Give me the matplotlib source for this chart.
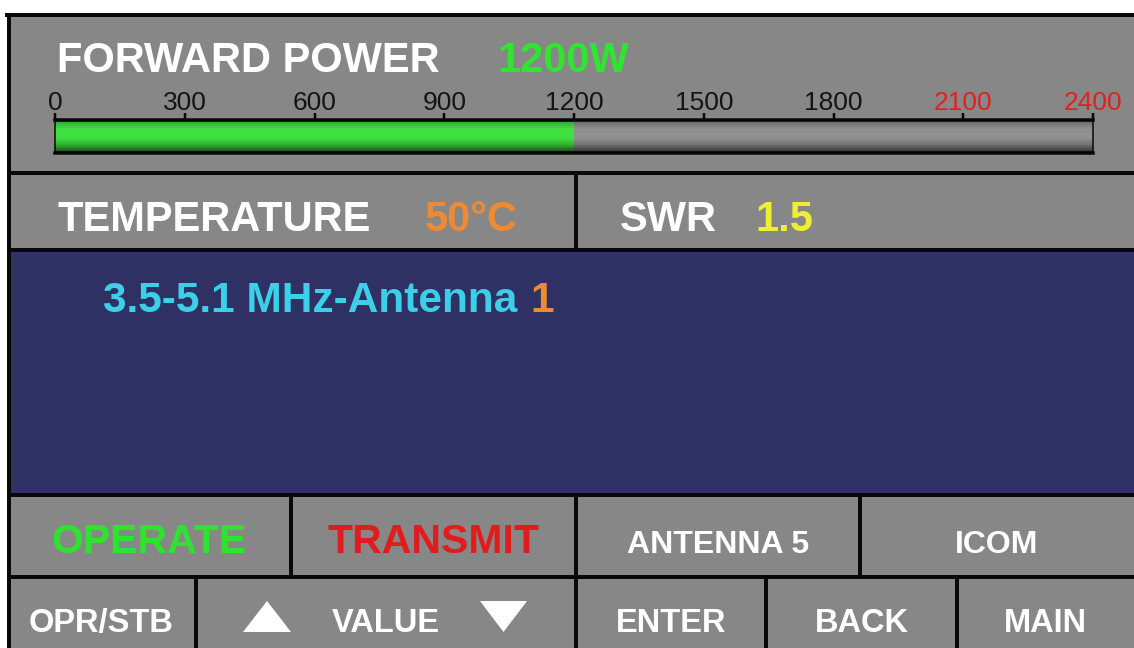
import matplotlib
matplotlib.use('Agg')
import matplotlib.pyplot as plt
import numpy as np
from matplotlib.patches import Rectangle, Polygon

# ---------------- data ----------------
power_title = "FORWARD POWER"
power_value = 1200
power_unit = "W"
scale_max = 2400
scale_ticks = [0, 300, 600, 900, 1200, 1500, 1800, 2100, 2400]
redline_start = 2100
temperature_c = 50
swr_value = 1.5
band_label = "3.5-5.1 MHz-Antenna"
antenna_number = 1
status_buttons = ["OPERATE", "TRANSMIT", "ANTENNA 5", "ICOM"]
status_colors = ["#2fe22f", "#e21c1c", "white", "white"]
nav_buttons = ["OPR/STB", "VALUE", "ENTER", "BACK", "MAIN"]

# ---------------- style ----------------
W, H = 1134, 648
PX = 0.72  # points per pixel at dpi 100
FONT = ['Liberation Sans', 'DejaVu Sans']
GRAY = '#878787'
NAVY = '#2f3063'
BLACK = '#080808'
GREEN_TXT = '#2fe52f'
ORANGE = '#ee8a32'
YELLOW = '#eeee34'
CYAN = '#3ccfe8'
RED = '#e22020'

fig = plt.figure(figsize=(W / 100, H / 100), dpi=100)
fig.patch.set_facecolor('white')
ax = fig.add_axes([0, 0, 1, 1])
ax.set_xlim(0, W)
ax.set_ylim(H, 0)
ax.axis('off')

# panels
ax.add_patch(Rectangle((7, 13), W - 7, H - 13, facecolor=GRAY, edgecolor='none', zorder=0))
ax.add_patch(Rectangle((7, 250), W - 7, 245, facecolor=NAVY, edgecolor='none', zorder=0))

lw = 4 * PX
def hline(y, x0=7, x1=W):
    ax.plot([x0, x1], [y, y], color=BLACK, lw=lw, solid_capstyle='butt', zorder=2)
def vline(x, y0, y1):
    ax.plot([x, x], [y0, y1], color=BLACK, lw=lw, solid_capstyle='butt', zorder=2)

hline(14.5, 5, W)
vline(8.5, 13, H)
for y in [173, 250, 495, 577]:
    hline(y)
vline(576, 173, 250)
row3_edges = [7, 291, 576, 860, W]
row4_edges = [7, 196, 576, 766, 957, W]
for x in row3_edges[1:-1]:
    vline(x, 495, 577)
for x in row4_edges[1:-1]:
    vline(x, 577, H)

# header texts
ax.text(57, 72, power_title, color='white', fontsize=30, fontweight='bold',
        family=FONT, ha='left', va='baseline')
ax.text(497, 72, f"{power_value}{power_unit}", color=GREEN_TXT, fontsize=30,
        fontweight='bold', family=FONT, ha='left', va='baseline')

ax.text(57, 231, "TEMPERATURE", color='white', fontsize=30, fontweight='bold',
        family=FONT, ha='left', va='baseline')
ax.text(425, 231, f"{temperature_c}°C", color=ORANGE, fontsize=30, fontweight='bold',
        family=FONT, ha='left', va='baseline')
ax.text(620, 231, "SWR", color='white', fontsize=30, fontweight='bold',
        family=FONT, ha='left', va='baseline')
ax.text(755, 231, f"{swr_value}", color=YELLOW, fontsize=30, fontweight='bold',
        family=FONT, ha='left', va='baseline')

t = ax.text(103, 312, band_label, color=CYAN, fontsize=30.5, fontweight='bold',
            family=FONT, ha='left', va='baseline')
ax.annotate(str(antenna_number), xy=(1, 0), xycoords=t, xytext=(9.5, 0),
            textcoords='offset points', color=ORANGE, fontsize=30.5,
            fontweight='bold', family=FONT, ha='left', va='bottom')

# row 3 buttons
row3_sizes = [29.5, 29.5, 23, 23]
for i, (lab, col) in enumerate(zip(status_buttons, status_colors)):
    cx = (row3_edges[i] + row3_edges[i + 1]) / 2
    ax.text(cx, 553, lab, color=col, fontsize=row3_sizes[i], fontweight='bold',
            family=FONT, ha='center', va='baseline')

# row 4 buttons
for i, lab in enumerate(nav_buttons):
    cx = (row4_edges[i] + row4_edges[i + 1]) / 2
    ax.text(cx, 632, lab, color='white', fontsize=23.5, fontweight='bold',
            family=FONT, ha='center', va='baseline')

# value arrows
ax.add_patch(Polygon([(243, 632), (291, 632), (267, 601)], closed=True,
                     facecolor='white', edgecolor='none', zorder=3))
ax.add_patch(Polygon([(480, 601), (527, 601), (503.5, 632)], closed=True,
                     facecolor='white', edgecolor='none', zorder=3))

# ---------------- meter ----------------
mx = fig.add_axes([55 / W, 1 - 153 / H, (1093 - 55) / W, 33 / H])
mx.barh(0.5, scale_max, height=1, color='#909090', zorder=1)
mx.barh(0.5, power_value, height=1, color='#40e040', zorder=2)
n = 64
yy = np.linspace(0, 1, n)
alpha = np.interp(yy, [0, 0.1, 0.3, 0.55, 0.75, 0.9, 1.0],
                  [0.6, 0.2, 0.0, 0.0, 0.2, 0.5, 0.75])
shade = np.zeros((n, 1, 4))
shade[..., 3] = alpha[:, None]
mx.imshow(shade, extent=(0, scale_max, 0, 1), aspect='auto', zorder=3,
          interpolation='bilinear')
mx.set_xlim(0, scale_max)
mx.set_ylim(0, 1)
mx.set_yticks([])
for s in ['top', 'bottom']:
    mx.spines[s].set_linewidth(3.5 * PX)
    mx.spines[s].set_color(BLACK)
for s in ['left', 'right']:
    mx.spines[s].set_linewidth(1.5 * PX)
    mx.spines[s].set_color(BLACK)
mx.set_xticks(scale_ticks)
mx.xaxis.set_ticks_position('top')
mx.tick_params(axis='x', direction='out', length=7 * PX, width=2.5 * PX,
               color=BLACK, labelsize=19, pad=-1.5)
for lab, v in zip(mx.get_xticklabels(), scale_ticks):
    lab.set_color(RED if v >= redline_start else '#141414')
    lab.set_family(FONT)

fig.savefig('out.png', dpi=100, facecolor='white')
